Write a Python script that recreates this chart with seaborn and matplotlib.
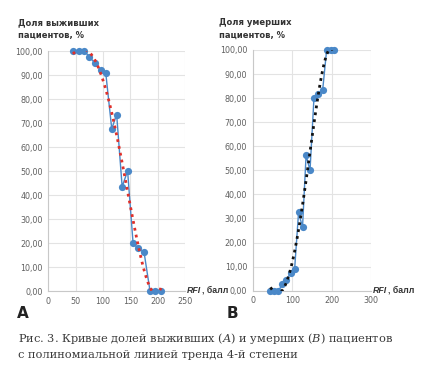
import numpy as np
import pandas as pd
import seaborn as sns
import matplotlib.pyplot as plt

# Survived patients (A)
rfi_survived = [45, 57, 66, 75, 85, 96, 105, 116, 125, 135, 145, 155, 164, 175, 186, 195, 206]
share_survived = [100, 100, 100, 97.6, 95, 92, 91, 67.6, 73.5, 43.5, 50, 20, 17.8, 16.3, 0, 0, 0]

# Died patients (B)
rfi_died = [45, 55, 65, 75, 85, 97, 106, 116, 126, 135, 145, 155, 166, 177, 187, 197, 206]
share_died = [0, 0, 0, 2.6, 4.6, 7.4, 8.9, 32.5, 26.4, 56.2, 50, 80.2, 81.8, 83.4, 100, 100, 100]

x_ticks_a = [0, 50, 100, 150, 200, 250]
x_ticks_b = [0, 100, 200, 300]
y_ticks = list(range(0, 101, 10))

sns.set_theme(style="white")
plt.rcParams['font.family'] = ['DejaVu Sans']
plt.rcParams['mathtext.fontset'] = 'dejavuserif'

df_a = pd.DataFrame({'RFI': rfi_survived, 'share': share_survived})
df_b = pd.DataFrame({'RFI': rfi_died, 'share': share_died})

fig = plt.figure(figsize=(4.26, 3.66), dpi=100)
ax_a = fig.add_axes([0.1134, 0.2049, 0.3209, 0.6557])
ax_b = fig.add_axes([0.5932, 0.2057, 0.2784, 0.6577])

blue = '#4a88c8'
narrow = ['Liberation Sans Narrow', 'Liberation Sans', 'DejaVu Sans']


def style_axes(ax, ticks):
    ax.set_xlim(ticks[0], ticks[-1])
    ax.set_ylim(0, 100)
    ax.set_xticks(ticks)
    ax.set_yticks(y_ticks)
    ax.set_yticklabels([f"{v:.2f}".replace('.', ',') for v in y_ticks])
    ax.grid(True, color='#e3e3e3', linewidth=0.8)
    ax.set_axisbelow(True)
    for s in ['top', 'right']:
        ax.spines[s].set_visible(False)
    for s in ['left', 'bottom']:
        ax.spines[s].set_color('#c8c8c8')
        ax.spines[s].set_linewidth(0.8)
    ax.tick_params(length=0, labelsize=5.8, labelcolor='#606060', pad=4)
    ax.set_xlabel('')
    ax.set_ylabel('')


for ax, df, trend_color, ticks in [(ax_a, df_a, '#e0302a', x_ticks_a),
                                    (ax_b, df_b, '#111111', x_ticks_b)]:
    sns.lineplot(data=df, x='RFI', y='share', ax=ax, color=blue, linewidth=1.0,
                 marker='o', markersize=5.2, markeredgewidth=0, clip_on=False, zorder=3)
    sns.regplot(data=df, x='RFI', y='share', ax=ax, order=4, ci=None, scatter=False,
                line_kws=dict(color=trend_color, linestyle=(0, (1, 1.5)), linewidth=2.0, zorder=4))
    style_axes(ax, ticks)

# axis titles
fig.text(18 / 426, 1 - 18 / 366, 'Доля выживших\nпациентов, %', fontsize=6, fontweight='bold',
         color='#333333', va='top', ha='left', linespacing=1.5)
fig.text(219 / 426, 1 - 18 / 366, 'Доля умерших\nпациентов, %', fontsize=6, fontweight='bold',
         color='#333333', va='top', ha='left', linespacing=1.5)

for x0 in (187, 373):
    t = fig.text(x0 / 426, 1 - 293 / 366, 'RFI', fontsize=6.3, fontweight='bold', style='italic',
                 family=narrow, color='#333333', va='baseline', ha='left')
    fig.add_artist(plt.Annotation(', балл', xy=(1, 0), xycoords=t, xytext=(0.3, 0),
                                  textcoords='offset points', fontsize=6.3, fontweight='bold',
                                  family=narrow, color='#333333', va='bottom', ha='left',
                                  annotation_clip=False))

fig.text(17 / 426, 1 - 313 / 366, 'A', fontsize=11, fontweight='bold', color='#222222',
         va='center', ha='left')
fig.text(227 / 426, 1 - 313 / 366, 'B', fontsize=11, fontweight='bold', color='#222222',
         va='center', ha='left')

fig.text(18 / 426, 1 - 338 / 366,
         r'Рис. 3. Кривые долей выживших ($\mathit{A}$) и умерших ($\mathit{B}$) пациентов',
         fontsize=8.2, family='DejaVu Serif', color='#3a3a3a', va='center', ha='left')
fig.text(18 / 426, 1 - 355 / 366, 'с полиномиальной линией тренда 4-й степени',
         fontsize=8.2, family='DejaVu Serif', color='#3a3a3a', va='center', ha='left')

plt.savefig('out.png', dpi=100)
